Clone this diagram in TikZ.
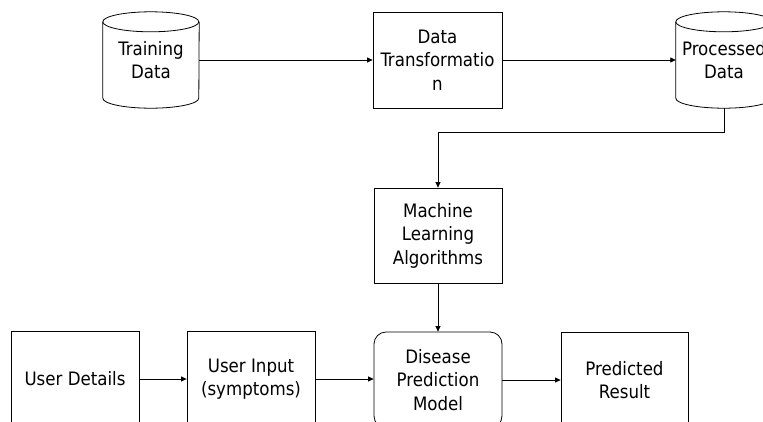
\documentclass[tikz,border=0pt]{standalone}
\usepackage{fontspec}
\setmainfont{DejaVu Sans Condensed}
\usetikzlibrary{arrows.meta}
\begin{document}
\begin{tikzpicture}[x=1pt,y=-1pt,
  box/.style={draw, line width=0.8pt, minimum width=128pt, minimum height=96pt, align=center, inner sep=0pt, font=\fontsize{18.5}{23.5}\selectfont},
  rbox/.style={box, rounded corners=12pt},
  cyl/.style={minimum width=96pt, minimum height=96pt, align=center, inner sep=0pt, font=\fontsize{18.5}{23.5}\selectfont},
  arr/.style={line width=0.8pt, -{Triangle[length=5.5pt,width=5pt]}},
  cylline/.style={line width=0.8pt}]
\useasboundingbox (0,0) rectangle (763,421);
\clip (0,0) rectangle (763,421);
\fill[white] (0,0) rectangle (763,421);
% nodes
\node[cyl] (td) at (151,60) {Training\\Data};
\node[box, minimum width=129pt] (dt) at (437.5,60) {Data\\Transformatio\\n};
\node[cyl] (pd) at (724,60) {Processed\\Data};
\node[box, minimum height=95pt] (ml) at (438,235.5) {Machine\\Learning\\Algorithms};
\node[rbox] (dp) at (438,380) {Disease\\Prediction\\Model};
\node[box, minimum width=127pt] (pr) at (624.5,380) {Predicted\\Result};
\node[box] (ud) at (75,379) {User Details};
\node[box] (ui) at (251,379) {User Input\\(symptoms)};
% cylinders
\foreach \n in {td,pd}{
  \draw[cylline] ([yshift=-10pt]\n.north west) arc[start angle=180,end angle=540,x radius=48pt,y radius=10pt];
  \draw[cylline] ([yshift=-10pt]\n.north west) -- ([yshift=10pt]\n.south west)
     arc[start angle=180,end angle=360,x radius=48pt,y radius=10pt] -- ([yshift=-10pt]\n.north east);
}
% connectors
\coordinate (bend) at (438,132);
\draw[arr] (td.east) -- (dt.west);
\draw[arr] (dt.east) -- (pd.west);
\draw[arr] (pd.south) |- (bend) -- (ml.north);
\draw[arr] (ml.south) -- (dp.north);
\draw[arr] (ud.east) -- (ui.west);
\draw[arr] (ui.east) -- (dp.west |- ui.east);
\draw[arr] (dp.east) -- (pr.west);
\end{tikzpicture}
\end{document}
